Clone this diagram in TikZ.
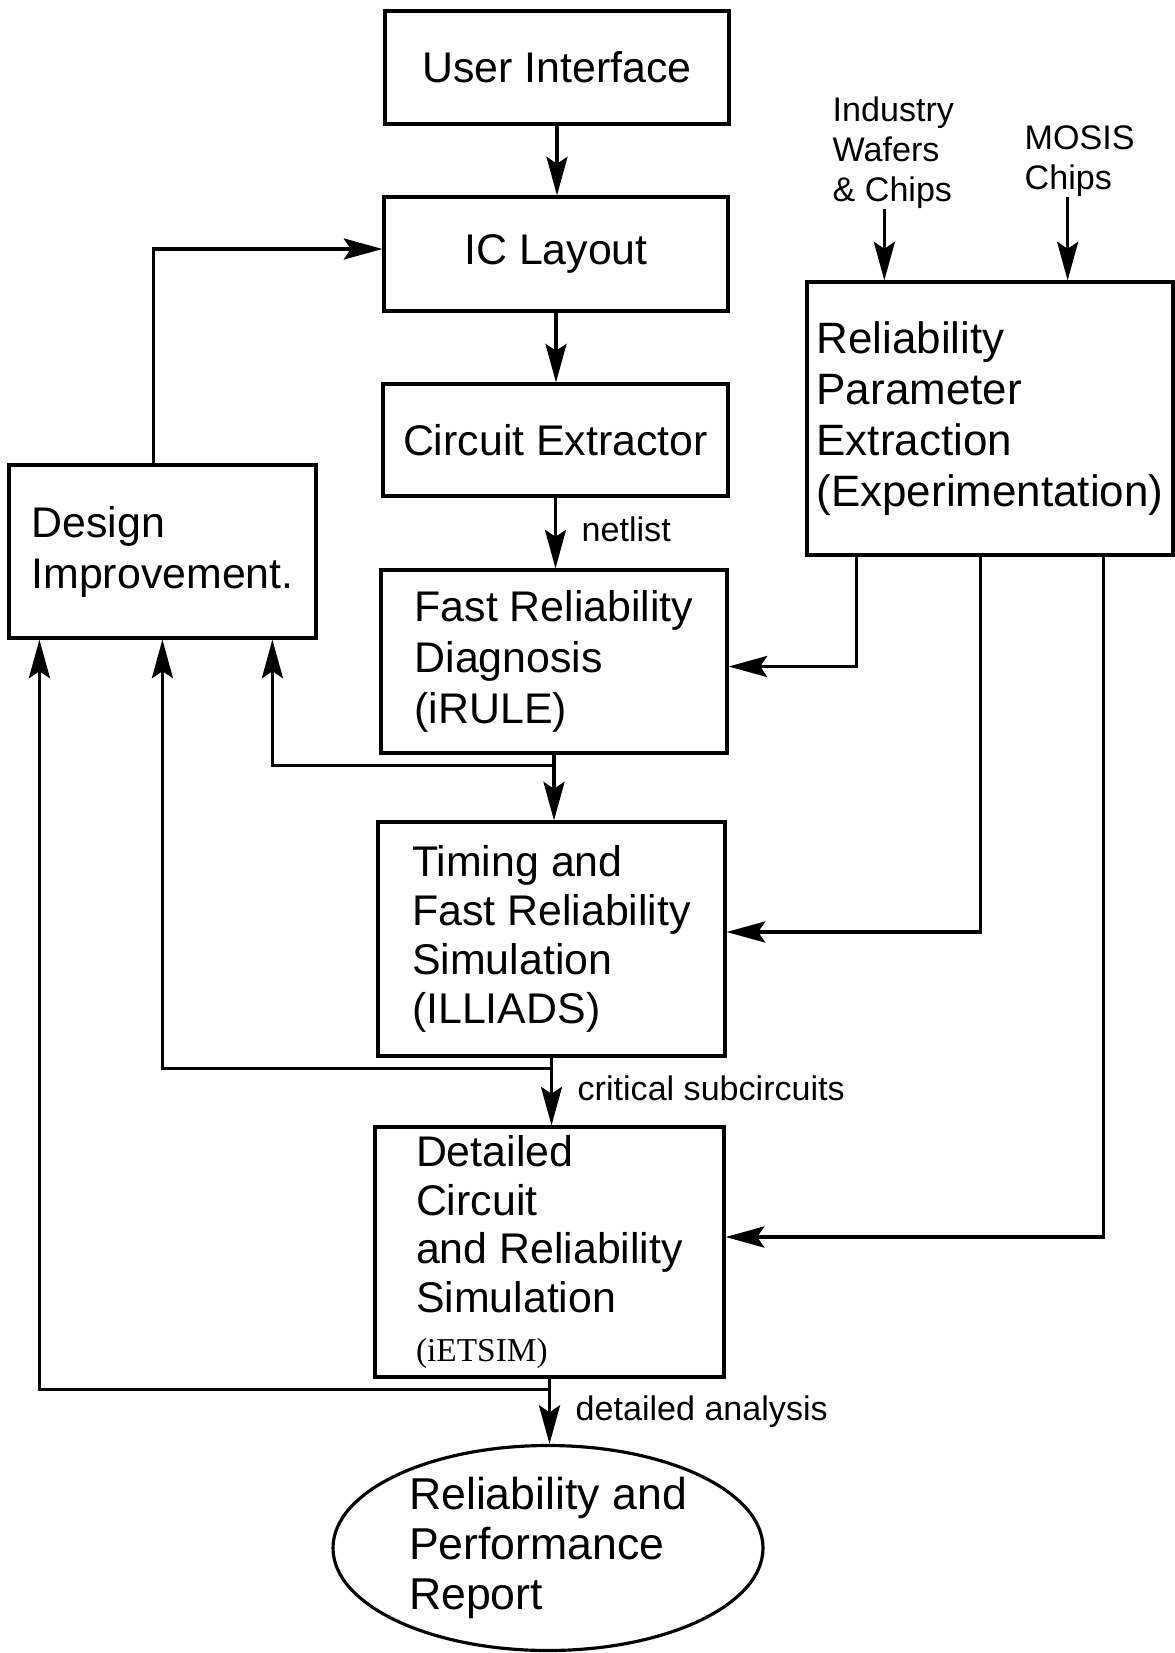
\documentclass[tikz,border=0pt]{standalone}
\usepackage{fontspec}
\setmainfont{Liberation Sans}
\newfontfamily\serifnote{Liberation Serif}
\usetikzlibrary{arrows.meta, calc, shapes.geometric}

\newdimen\unitpx
\unitpx=0.1mm

\tikzset{
	box/.style = {draw, line width = 0.9pt, align = left, inner sep = 0pt, font = \fontsize{12.2}{14.5}\selectfont},
	report/.style = {draw, ellipse, line width = 0.9pt, align = left, inner sep = 0pt, font = \fontsize{12.7}{14.2}\selectfont},
	lbl/.style = {inner sep = 0pt, font = \fontsize{9.7}{11.4}\selectfont},
	arr/.style = {line width = 0.9pt, -{Stealth[length = 11pt, width = 6pt, inset = 2pt]}},
}

\begin{document}
\begin{tikzpicture}[x = 0.1mm, y = -0.1mm]
	\useasboundingbox (0,0) rectangle (1175,1653);

	%	main column
	\node[box, minimum width = 344\unitpx, minimum height = 113\unitpx] (ui) at (557,67.5) {User Interface};
	\node[box, minimum width = 344\unitpx, minimum height = 114\unitpx] (ic) at (556,254) {IC Layout};
	\node[box, minimum width = 345\unitpx, minimum height = 112\unitpx] (ce) at (555.5,440) {Circuit Extractor};
	\node[box, minimum width = 346\unitpx, minimum height = 183\unitpx] (frd) at (554,661.5) {Fast Reliability\\Diagnosis\\(iRULE)};
	\node[box, minimum width = 347\unitpx, minimum height = 234\unitpx, font = \fontsize{12.2}{14}\selectfont] (tim) at (551.5,939) {Timing and\\Fast Reliability\\Simulation\\(ILLIADS)};
	\node[box, minimum width = 349\unitpx, minimum height = 250\unitpx, font = \fontsize{12.2}{13.8}\selectfont] (det) at (549.5,1252) {Detailed\\Circuit\\and Reliability\\Simulation\\{\serifnote\fontsize{9.5}{12.8}\selectfont (iETSIM)}};
	\node[report, minimum width = 430\unitpx, minimum height = 205\unitpx] (rep) at (548,1548) {Reliability and\\Performance\\Report};

	%	side boxes
	\node[box, minimum width = 307\unitpx, minimum height = 173\unitpx] (di) at (162.5,551.5) {Design\\Improvement.};
	\node[box, minimum width = 366\unitpx, minimum height = 273\unitpx, font = \fontsize{12.5}{14.5}\selectfont] (rpe) at (990,418.5) {Reliability\\Parameter\\Extraction\\(Experimentation)};

	%	inputs
	\node[lbl, align = left, anchor = north west] (ind) at (832,96) {Industry\\Wafers\\\& Chips};
	\node[lbl, align = left, anchor = north west] (mos) at (1024,125) {MOSIS\\Chips};

	%	flow down
	\draw[arr] (ui.south) -- (ui.south |- ic.north);
	\draw[arr] (ic.south) -- (ic.south |- ce.north);
	\draw[arr] (ce.south) -- node[lbl, right = 7pt, pos = .45] (netl) {netlist} (ce.south |- frd.north);
	\draw[arr] (frd.south) -- (frd.south |- tim.north);
	\draw[arr] (tim.south) -- node[lbl, right = 7pt, pos = .46] (crit) {critical subcircuits} (tim.south |- det.north);
	\draw[arr] (det.south) -- node[lbl, right = 7pt, pos = .5] (anal) {detailed analysis} (det.south |- rep.north);

	%	feedback to design improvement
	\coordinate (j1) at ($(frd.south)+(0,11)$);
	\coordinate (j2) at ($(tim.south)+(0,11)$);
	\coordinate (j3) at ($(det.south)+(0,11)$);
	\draw[arr] (j1) -| ($(di.south west)+(265,0)$);
	\draw[arr] (j2) -| ($(di.south west)+(155,0)$);
	\draw[arr] (j3) -| ($(di.south west)+(32,0)$);
	\draw[arr] ($(di.north west)+(146,0)$) |- ($(ic.west)+(0,-5)$);

	%	parameters
	\draw[arr] ($(rpe.south west)+(51,0)$) |- ($(frd.east)+(0,5)$);
	\draw[arr] ($(rpe.south west)+(175,0)$) |- ($(tim.east)+(0,-7)$);
	\draw[arr] ($(rpe.south west)+(298,0)$) |- ($(det.east)+(0,-15)$);

	\coordinate (indA) at ($(ind.south)+(-9,0)$);
	\coordinate (mosA) at ($(mos.south)+(-12,0)$);
	\draw[arr] (indA) -- (indA |- rpe.north);
	\draw[arr] (mosA) -- (mosA |- rpe.north);
\end{tikzpicture}
\end{document}
